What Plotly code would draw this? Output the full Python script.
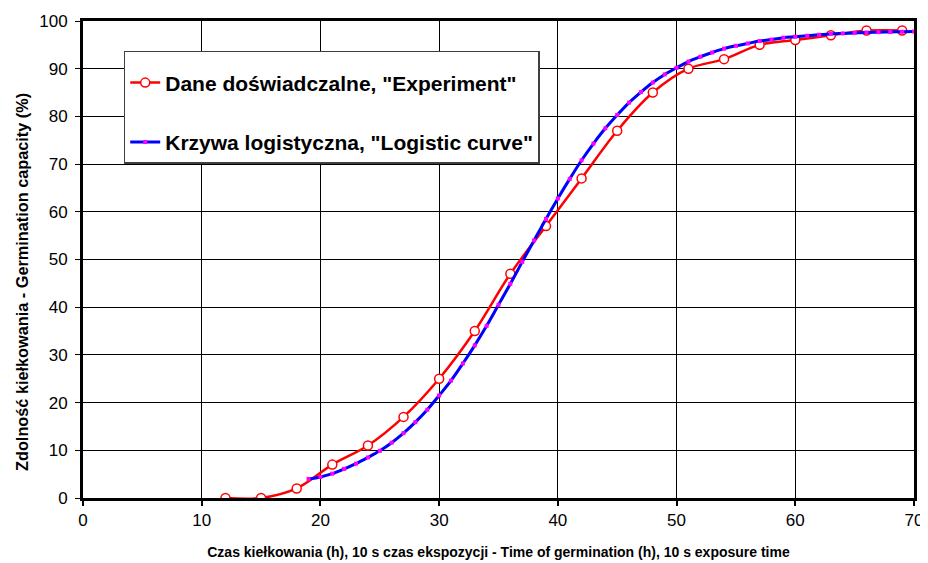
import plotly.graph_objects as go

# Experimental data
exp_x = [12, 15, 18, 21, 24, 27, 30, 33, 36, 39, 42, 45, 48, 51, 54, 57, 60, 63, 66, 69]
exp_y = [0, 0, 2, 7, 11, 17, 25, 35, 47, 57, 67, 77, 85, 90, 92, 95, 96, 97, 98, 98]

# Logistic curve
log_x = list(range(19, 71))
log_y = [4.0, 4.4, 5.1, 6.1, 7.2, 8.5, 9.9, 11.6, 13.6, 15.9, 18.5, 21.5,
         24.6, 28.2, 32.0, 36.1, 40.5, 44.9, 49.5, 54.0, 58.5, 62.8, 66.9, 70.8,
         74.3, 77.5, 80.3, 82.9, 85.1, 87.1, 88.8, 90.2, 91.5, 92.5, 93.4, 94.2,
         94.8, 95.3, 95.8, 96.1, 96.5, 96.7, 96.9, 97.1, 97.3, 97.4, 97.5, 97.6,
         97.65, 97.7, 97.75, 97.8]

x_ticks = [0, 10, 20, 30, 40, 50, 60, 70]
y_ticks = [0, 10, 20, 30, 40, 50, 60, 70, 80, 90, 100]

FONT = "Liberation Sans, Arial, sans-serif"

fig = go.Figure()
fig.add_trace(go.Scatter(
    x=exp_x, y=exp_y, mode="lines+markers",
    name='<b>Dane doświadczalne, "Experiment"</b>',
    line=dict(color="#ff0000", width=2.5, shape="spline"),
    marker=dict(symbol="circle", size=9, color="white",
                line=dict(color="#ff0000", width=1.5)),
    legendgroup="a",
))
fig.add_trace(go.Scatter(
    x=log_x, y=log_y, mode="lines+markers",
    name='<b>Krzywa logistyczna, "Logistic curve"</b>',
    line=dict(color="#0000ff", width=3, shape="spline"),
    marker=dict(symbol="square", size=4, color="#ff00ff"),
    legendgroup="b",
))

axis_font = dict(family=FONT, size=17, color="black")
fig.update_layout(
    width=920, height=555,
    margin=dict(l=74.5, r=13.5, t=12.7, b=65.3, autoexpand=False),
    paper_bgcolor="white", plot_bgcolor="white",
    font=dict(family=FONT, color="black"),
    showlegend=True,
    legend=dict(
        x=0.049, y=0.938, xanchor="left", yanchor="top",
        bgcolor="white", bordercolor="#404040", borderwidth=1.5,
        font=dict(size=21, family=FONT, color="black"),
        title=dict(text=" ", font=dict(size=8)),
        tracegroupgap=29,
        itemwidth=30,
    ),
    xaxis=dict(
        range=[0, 70], tickvals=x_ticks, ticktext=[str(v) for v in x_ticks],
        showgrid=True, gridcolor="black", gridwidth=1,
        showline=True, linecolor="black", linewidth=3, mirror=True,
        ticks="outside", ticklen=5, tickcolor="black", tickwidth=2,
        tickfont=axis_font, zeroline=False, automargin=False,
        title=dict(text="<b>Czas kiełkowania (h), 10 s czas ekspozycji - Time of germination (h), 10 s exposure time</b>",
                   font=dict(size=14, family=FONT, color="black"),
                   standoff=18),
    ),
    yaxis=dict(
        range=[0, 100], tickvals=y_ticks, ticktext=[str(v) for v in y_ticks],
        showgrid=True, gridcolor="black", gridwidth=1,
        showline=True, linecolor="black", linewidth=3, mirror=True,
        ticks="outside", ticklen=5, tickcolor="black", tickwidth=1,
        tickfont=axis_font, zeroline=False, automargin=False,
        ticklabelstandoff=4,
    ),
    annotations=[dict(
        text="<b>Zdolność kiełkowania - Germination capacity (%)</b>",
        xref="paper", yref="paper", x=-0.0727, y=0.452,
        xanchor="center", yanchor="middle", textangle=-90, showarrow=False,
        font=dict(size=16.3, family=FONT, color="black"),
    )],
)

fig.write_html("out.html")
